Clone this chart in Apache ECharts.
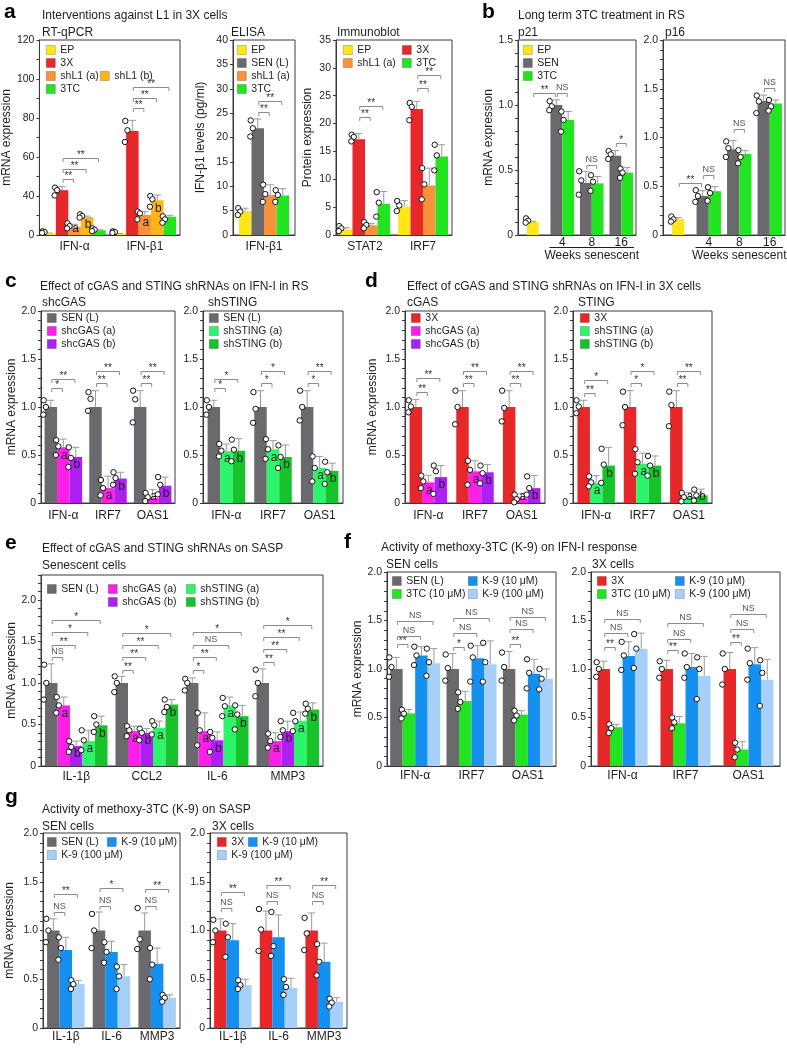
<!DOCTYPE html>
<html>
<head>
<meta charset="utf-8">
<script src="https://cdn.jsdelivr.net/npm/echarts@6.0.0/dist/echarts.min.js"></script>
<style>
  html, body { margin: 0; padding: 0; background: #fff; }
  #chart { width: 787px; height: 1050px; }
</style>
</head>
<body>
<div id="chart"></div>
<script>
// ---- data ----
// a: RT-qPCR (axis units; tick labels on the original read 0,40,60,...,120)
const qpcrCats = ['IFN-α', 'IFN-β1'];
const qpcrNames = ['EP', '3X', 'shL1 (a)', 'shL1 (b)', '3TC'];
const qpcrTags = ['', '', 'a', 'b', ''];
const qpcrMean = [[0.7, 0.5], [23, 53.3], [4.1, 10.3], [9.2, 17.8], [2.4, 9.4]];
const qpcrErr = [[0.3, 0.3], [1.8, 5.5], [1.4, 1.7], [0.5, 2.7], [0.3, 0.7]];
const qpcrDots = [
  [[1.9, 1.5, 1.1], [1.9, 1.5, 1.1]],
  [[24.3, 23, 20.3], [58.5, 53.7, 47.7]],
  [[6, 4.6, 3.4], [12, 11.1, 8]],
  [[10.6, 9.7, 8.9], [20, 18.3, 14.5]],
  [[3.4, 2.7, 2], [9.6, 8, 6.3]]
];
const qpcrSig = [
  [0, 1, 0, 2, 28.6, '**'], [0, 1, 0, 3, 34, '**'], [0, 1, 0, 4, 39.6, '**'],
  [1, 1, 1, 2, 65, '**'], [1, 1, 1, 3, 70.5, '**'], [1, 1, 1, 4, 75.9, '**']
];

// a: ELISA
const elisaCats = ['IFN-β1'];
const elisaNames = ['EP', 'SEN (L)', 'shL1 (a)', '3TC'];
const elisaMean = [[4.9], [21.9], [8.2], [8.1]];
const elisaErr = [[0.6], [1.9], [2.1], [1.4]];
const elisaDots = [[[5.5, 4.8, 4.1]], [[23.5, 21.9, 20.2]], [[10.3, 8.4, 6.8]], [[9.2, 8.2, 6.8]]];
const elisaSig = [[0, 1, 0, 2, 25.3, '**'], [0, 1, 0, 3, 27.4, '**']];

// a: Immunoblot
const blotCats = ['STAT2', 'IRF7'];
const blotNames = ['EP', '3X', 'shL1 (a)', '3TC'];
const blotMean = [[1.0, 5.1], [17.2, 22.6], [1.75, 8.9], [5.6, 14.1]];
const blotErr = [[0.3, 1.1], [1.0, 1.4], [0.35, 3.1], [2.2, 2.1]];
const blotDots = [
  [[1.6, 1.2, 0.7], [6.1, 5.3, 4.3]],
  [[18, 17.6, 16.8], [23.7, 23, 20.6]],
  [[2.3, 1.8, 1.2], [12, 9.1, 6.4]],
  [[7.7, 5.8, 3.3], [16.2, 14.3, 11.6]]
];
const blotSig = [[0, 1, 0, 2, 21.1, '**'], [0, 1, 0, 3, 23.1, '**'], [1, 1, 1, 2, 26.4, '**'], [1, 1, 1, 3, 28.7, '**']];

// b: long term 3TC
const weekCats = ['', '4', '8', '16'];
const weekNames = ['EP', 'SEN', '3TC'];
const p21Mean = [[0.1, null, null, null], [null, 1.0, 0.4, 0.61], [null, 0.885, 0.397, 0.48]];
const p21Err = [[0.005, null, null, null], [null, 0.04, 0.09, 0.04], [null, 0.065, 0.053, 0.04]];
const p21Dots = [
  [[0.128, 0.11, 0.095], null, null, null],
  [null, [1.03, 0.99, 0.96], [0.49, 0.42, 0.31], [0.646, 0.62, 0.585]],
  [null, [0.95, 0.885, 0.795], [0.46, 0.41, 0.34], [0.51, 0.48, 0.44]]
];
const p21Sig = [[0, 0, 1, 1, 1.09, '**'], [1, 1, 1, 2, 1.09, 'NS'], [2, 1, 2, 2, 0.54, 'NS'], [3, 1, 3, 2, 0.705, '*']];
const p16Mean = [[0.164, null, null, null], [null, 0.4, 0.88, 1.375], [null, 0.45, 0.83, 1.35]];
const p16Err = [[0.014, null, null, null], [null, 0.055, 0.09, 0.06], [null, 0.046, 0.035, 0.035]];
const p16Dots = [
  [[0.19, 0.16, 0.137], null, null, null],
  [null, [0.46, 0.4, 0.34], [0.96, 0.89, 0.8], [1.43, 1.37, 1.25]],
  [null, [0.49, 0.43, 0.35], [0.87, 0.8, 0.735], [1.385, 1.32, 1.275]]
];
const p16Sig = [[0, 0, 1, 1, 0.53, '**'], [1, 1, 1, 2, 0.615, 'NS'], [2, 1, 2, 2, 1.087, 'NS'], [3, 1, 3, 2, 1.504, 'NS']];

// c / d: cGAS and STING shRNAs on IFN-I
const ifnCats = ['IFN-α', 'IRF7', 'OAS1'];
const abTags = ['', 'a', 'b'];
const cgasRsNames = ['SEN (L)', 'shcGAS (a)', 'shcGAS (b)'];
const cgasRsMean = [[1, 1, 1], [0.58, 0.155, 0.05], [0.48, 0.255, 0.18]];
const cgasRsErr = [[0.07, 0.17, 0.17], [0.085, 0.125, 0.09], [0.1, 0.065, 0.09]];
const cgasRsDots = [
  [[1.07, 1.0, 0.92], [1.155, 1.085, 0.96], [1.17, 1.08, 0.84]],
  [[0.655, 0.59, 0.5], [0.24, 0.155, 0.08], [0.105, 0.06, 0.02]],
  [[0.58, 0.47, 0.375], [0.32, 0.26, 0.19], [0.27, 0.19, 0.09]]
];
const cgasRsSig = [
  [0, 0, 0, 1, 1.2, '*'], [0, 0, 0, 2, 1.29, '**'], [1, 0, 1, 1, 1.25, '**'],
  [1, 0, 1, 2, 1.38, '**'], [2, 0, 2, 1, 1.25, '**'], [2, 0, 2, 2, 1.38, '**']
];
const stingRsNames = ['SEN (L)', 'shSTING (a)', 'shSTING (b)'];
const stingRsMean = [[1, 1, 1], [0.54, 0.56, 0.365], [0.545, 0.48, 0.335]];
const stingRsErr = [[0.07, 0.17, 0.17], [0.075, 0.09, 0.12], [0.125, 0.125, 0.08]];
const stingRsDots = [
  [[1.07, 1.0, 0.92], [1.155, 0.98, 0.835], [1.17, 1.0, 0.86]],
  [[0.615, 0.545, 0.485], [0.665, 0.56, 0.46], [0.485, 0.365, 0.225]],
  [[0.66, 0.555, 0.435], [0.6, 0.48, 0.365], [0.43, 0.32, 0.2]]
];
const stingRsSig = [
  [0, 0, 0, 1, 1.2, '*'], [0, 0, 0, 2, 1.29, '*'], [1, 0, 1, 1, 1.25, '*'],
  [1, 0, 1, 2, 1.38, '*'], [2, 0, 2, 1, 1.25, '*'], [2, 0, 2, 2, 1.38, '**']
];
const cgas3xNames = ['3X', 'shcGAS (a)', 'shcGAS (b)'];
const cgas3xMean = [[1, 1, 1], [0.215, 0.33, 0.05], [0.27, 0.32, 0.155]];
const cgas3xErr = [[0.08, 0.17, 0.17], [0.075, 0.11, 0.045], [0.12, 0.08, 0.13]];
const cgas3xDots = [
  [[1.07, 1.005, 0.945], [1.17, 1.0, 0.82], [1.17, 0.99, 0.85]],
  [[0.285, 0.225, 0.155], [0.44, 0.345, 0.19], [0.087, 0.04, 0.007]],
  [[0.39, 0.33, 0.095], [0.39, 0.31, 0.205], [0.277, 0.155, 0.087]]
];
const cgas3xSig = [
  [0, 0, 0, 1, 1.16, '**'], [0, 0, 0, 2, 1.3, '**'], [1, 0, 1, 1, 1.25, '**'],
  [1, 0, 1, 2, 1.38, '**'], [2, 0, 2, 1, 1.25, '**'], [2, 0, 2, 2, 1.38, '**']
];
const sting3xNames = ['3X', 'shSTING (a)', 'shSTING (b)'];
const sting3xMean = [[1, 1, 1], [0.21, 0.41, 0.06], [0.39, 0.39, 0.08]];
const sting3xErr = [[0.07, 0.17, 0.17], [0.075, 0.11, 0.05], [0.19, 0.1, 0.065]];
const sting3xDots = [
  [[1.07, 1.005, 0.935], [1.16, 1.0, 0.81], [1.16, 1.02, 0.8]],
  [[0.277, 0.215, 0.173], [0.56, 0.425, 0.305], [0.105, 0.06, 0.017]],
  [[0.565, 0.4, 0.21], [0.49, 0.39, 0.285], [0.14, 0.08, 0.025]]
];
const sting3xSig = [
  [0, 0, 0, 1, 1.145, '**'], [0, 0, 0, 2, 1.28, '*'], [1, 0, 1, 1, 1.25, '*'],
  [1, 0, 1, 2, 1.38, '*'], [2, 0, 2, 1, 1.25, '**'], [2, 0, 2, 2, 1.38, '**']
];

// e: SASP
const saspCats = ['IL-1β', 'CCL2', 'IL-6', 'MMP3'];
const saspNames = ['SEN (L)', 'shcGAS (a)', 'shcGAS (b)', 'shSTING (a)', 'shSTING (b)'];
const saspTags = ['', 'a', 'b', 'a', 'b'];
const saspMean = [[1, 1, 1, 1], [0.73, 0.42, 0.42, 0.3], [0.24, 0.4, 0.31, 0.42], [0.3, 0.46, 0.73, 0.545], [0.49, 0.74, 0.6, 0.68]];
const saspErr = [[0.23, 0.08, 0.06, 0.17], [0.1, 0.06, 0.22, 0.1], [0.06, 0.05, 0.1, 0.12], [0.13, 0.08, 0.1, 0.105], [0.11, 0.06, 0.13, 0.08]];
const saspDots = [
  [[1.22, 1.0, 0.8], [1.08, 1.0, 0.89], [1.05, 1.0, 0.91], [1.16, 1.0, 0.84]],
  [[0.83, 0.73, 0.64], [0.48, 0.43, 0.36], [0.64, 0.43, 0.25], [0.39, 0.3, 0.22]],
  [[0.3, 0.23, 0.17], [0.45, 0.4, 0.31], [0.41, 0.34, 0.17], [0.54, 0.43, 0.35]],
  [[0.43, 0.31, 0.19], [0.54, 0.49, 0.38], [0.82, 0.72, 0.6], [0.64, 0.54, 0.42]],
  [[0.6, 0.5, 0.41], [0.8, 0.71, 0.65], [0.73, 0.62, 0.44], [0.75, 0.69, 0.63]]
];
const saspSig = [
  [0, 0, 0, 1, 1.31, 'NS'], [0, 0, 0, 2, 1.46, '**'], [0, 0, 0, 3, 1.61, '*'], [0, 0, 0, 4, 1.76, '*'],
  [1, 0, 1, 1, 1.16, '**'], [1, 0, 1, 2, 1.31, '**'], [1, 0, 1, 3, 1.46, '**'], [1, 0, 1, 4, 1.6, '*'],
  [2, 0, 2, 1, 1.16, '*'], [2, 0, 2, 2, 1.31, '**'], [2, 0, 2, 3, 1.46, 'NS'], [2, 0, 2, 4, 1.61, '*'],
  [3, 0, 3, 1, 1.25, '**'], [3, 0, 3, 2, 1.41, '**'], [3, 0, 3, 3, 1.55, '**'], [3, 0, 3, 4, 1.7, '*']
];

// f: methoxy-3TC (K-9) on IFN-I
const k9IfnSenNames = ['SEN (L)', '3TC (10 μM)', 'K-9 (10 μM)', 'K-9 (100 μM)'];
const k9IfnSenMean = [[1, 1, 1], [0.543, 0.67, 0.53], [1.14, 1.11, 0.95], [1.06, 1.05, 0.9]];
const k9IfnSenErr = [[0.12, 0.16, 0.18], [0.04, 0.1, 0.04], [0.09, 0.13, 0.15], [0.15, 0.24, 0.1]];
const k9IfnSenDots = [
  [[1.12, 1.02, 0.92], [1.15, 1.01, 0.88], [1.17, 1.02, 0.88]],
  [[0.58, 0.54, 0.49], [0.76, 0.66, 0.59], [0.57, 0.52, 0.47]],
  [[1.23, 1.14, 1.04], [1.24, 1.12, 0.87], [1.1, 0.96, 0.8]],
  [[1.21, 1.07, 0.93], [1.27, 1.07, 0.87], [1.0, 0.9, 0.79]]
];
const k9IfnSenSig = [
  [0, 0, 0, 1, 1.26, '**'], [0, 0, 0, 2, 1.34, 'NS'], [0, 0, 0, 3, 1.5, 'NS'],
  [1, 0, 1, 1, 1.23, '*'], [1, 0, 1, 2, 1.37, 'NS'], [1, 0, 1, 3, 1.53, 'NS'],
  [2, 0, 2, 1, 1.26, '**'], [2, 0, 2, 2, 1.41, 'NS'], [2, 0, 2, 3, 1.54, 'NS']
];
const k9Ifn3xNames = ['3X', '3TC (10 μM)', 'K-9 (10 μM)', 'K-9 (100 μM)'];
const k9Ifn3xMean = [[1, 1, 1], [0.4, 0.44, 0.17], [1.135, 1.02, 1.05], [1.21, 0.93, 0.89]];
const k9Ifn3xErr = [[0.08, 0.09, 0.17], [0.03, 0.07, 0.08], [0.145, 0.14, 0.17], [0.16, 0.2, 0.21]];
const k9Ifn3xDots = [
  [[1.07, 1.0, 0.92], [1.08, 1.0, 0.91], [1.16, 1.0, 0.84]],
  [[0.43, 0.39, 0.34], [0.5, 0.45, 0.39], [0.24, 0.17, 0.09]],
  [[1.28, 1.14, 0.99], [1.16, 1.02, 0.91], [1.21, 1.06, 0.89]],
  [[1.36, 1.21, 1.01], [1.12, 1.0, 0.69], [1.09, 0.96, 0.62]]
];
const k9Ifn3xSig = [
  [0, 0, 0, 1, 1.23, '**'], [0, 0, 0, 2, 1.37, 'NS'], [0, 0, 0, 3, 1.52, 'NS'],
  [1, 0, 1, 1, 1.2, '**'], [1, 0, 1, 2, 1.31, 'NS'], [1, 0, 1, 3, 1.47, 'NS'],
  [2, 0, 2, 1, 1.28, '**'], [2, 0, 2, 2, 1.41, 'NS'], [2, 0, 2, 3, 1.57, 'NS']
];

// g: methoxy-3TC (K-9) on SASP
const k9SaspCats = ['IL-1β', 'IL-6', 'MMP3'];
const k9SaspSenNames = ['SEN (L)', 'K-9 (10 μM)', 'K-9 (100 μM)'];
const k9SaspSenMean = [[1, 1, 1], [0.8, 0.78, 0.66], [0.45, 0.53, 0.31]];
const k9SaspSenErr = [[0.12, 0.19, 0.18], [0.13, 0.11, 0.16], [0.04, 0.12, 0.03]];
const k9SaspSenDots = [
  [[1.12, 1.0, 0.88], [1.17, 1.0, 0.82], [1.23, 0.91, 0.81]],
  [[0.93, 0.82, 0.7], [0.88, 0.78, 0.67], [0.82, 0.65, 0.5]],
  [[0.49, 0.45, 0.4], [0.63, 0.53, 0.4], [0.34, 0.31, 0.27]]
];
const k9SaspSenSig = [
  [0, 0, 0, 1, 1.19, 'NS'], [0, 0, 0, 2, 1.37, '**'], [1, 0, 1, 1, 1.25, 'NS'],
  [1, 0, 1, 2, 1.44, '*'], [2, 0, 2, 1, 1.25, 'NS'], [2, 0, 2, 2, 1.43, '**']
];
const k9Sasp3xNames = ['3X', 'K-9 (10 μM)', 'K-9 (100 μM)'];
const k9Sasp3xMean = [[1, 1, 1], [0.9, 0.93, 0.68], [0.44, 0.41, 0.27]];
const k9Sasp3xErr = [[0.12, 0.2, 0.18], [0.17, 0.23, 0.19], [0.06, 0.1, 0.04]];
const k9Sasp3xDots = [
  [[1.11, 1.0, 0.88], [1.22, 1.01, 0.79], [1.13, 0.97, 0.8]],
  [[1.07, 0.93, 0.73], [1.19, 0.84, 0.74], [0.86, 0.68, 0.54]],
  [[0.49, 0.44, 0.4], [0.5, 0.42, 0.34], [0.3, 0.26, 0.22]]
];
const k9Sasp3xSig = [
  [0, 0, 0, 1, 1.23, 'NS'], [0, 0, 0, 2, 1.4, '**'], [1, 0, 1, 1, 1.3, 'NS'],
  [1, 0, 1, 2, 1.47, '**'], [2, 0, 2, 1, 1.3, 'NS'], [2, 0, 2, 2, 1.47, '**']
];

// ---- styling ----
const FONT = '"Liberation Sans", Arial, Helvetica, sans-serif';
const INK = '#1e1e1e';
const FRAME = '#3a3a3a';
const WHISKER = '#9a9a9a';
const BRACKET = '#8c8c8c';
const BAR_W = 12.5;
const JIT = [-0.8, 1.3, -1.2];
const COLORS = {
  'EP': '#ffe619', '3X': '#e6282b', 'shL1 (a)': '#f8933b', 'shL1 (b)': '#fdb615', '3TC': '#22e421',
  'SEN (L)': '#6a6a6e', 'SEN': '#6a6a6e', 'shcGAS (a)': '#fb1fe8', 'shcGAS (b)': '#ad1ff2',
  'shSTING (a)': '#2df56b', 'shSTING (b)': '#16c32b', '3TC (10 μM)': '#22e421',
  'K-9 (10 μM)': '#1590ef', 'K-9 (100 μM)': '#a6d0f7'
};

function fmtTenth(v) {
  const t = Math.round(v * 10);
  if (t % 5 !== 0) return '';
  return t === 0 ? '0' : (t / 10).toFixed(1);
}
function fmtQpcr(v) {
  const r = Math.round(v);
  if (r % 20 !== 0) return '';
  return r === 0 ? '0' : String(r + 20);
}
function fmtInt(v) {
  return String(Math.round(v));
}

const panels = [
  { cats: qpcrCats, names: qpcrNames, tags: qpcrTags, mean: qpcrMean, err: qpcrErr, dots: qpcrDots, sig: qpcrSig,
    box: [39, 40, 141, 195], max: 100, step: 10, fmt: fmtQpcr, yName: 'mRNA expression', nameGap: 20, xMargin: 6,
    legends: [[46, 44, ['EP', '3X', 'shL1 (a)', '3TC']], [100, 70, ['shL1 (b)']]] },
  { cats: elisaCats, names: elisaNames, mean: elisaMean, err: elisaErr, dots: elisaDots, sig: elisaSig,
    box: [233, 40, 62, 195], max: 40, step: 5, fmt: fmtInt, yName: 'IFN-β1 levels (pg/ml)', nameGap: 26, xMargin: 6,
    legends: [[237, 44, ['EP', 'SEN (L)', 'shL1 (a)', '3TC']]] },
  { cats: blotCats, names: blotNames, mean: blotMean, err: blotErr, dots: blotDots, sig: blotSig,
    box: [336, 40, 116, 195], max: 35, step: 5, fmt: fmtInt, yName: 'Protein expression', nameGap: 22, xMargin: 6,
    legends: [[343, 44, ['EP', 'shL1 (a)']], [402, 44, ['3X', '3TC']]] },
  { cats: weekCats, names: weekNames, mean: p21Mean, err: p21Err, dots: p21Dots, sig: p21Sig,
    box: [518, 40, 118, 195], max: 1.5, step: 0.1, fmt: fmtTenth, yName: 'mRNA expression', nameGap: 21, xMargin: 2,
    slots: [0.5, 0, 1], nSlots: 2, barW: 11.8, weeks: true,
    legends: [[523, 44, ['EP', 'SEN', '3TC']]] },
  { cats: weekCats, names: weekNames, mean: p16Mean, err: p16Err, dots: p16Dots, sig: p16Sig,
    box: [663, 40, 122, 195], max: 2, step: 0.1, fmt: fmtTenth, xMargin: 2,
    slots: [0.5, 0, 1], nSlots: 2, barW: 12.2, weeks: true, legends: [] },
  { cats: ifnCats, names: cgasRsNames, tags: abTags, mean: cgasRsMean, err: cgasRsErr, dots: cgasRsDots, sig: cgasRsSig,
    box: [41, 311, 134, 192], max: 2, step: 0.1, fmt: fmtTenth, yName: 'mRNA expression', nameGap: 23, xMargin: 7,
    legends: [[47, 312, cgasRsNames]] },
  { cats: ifnCats, names: stingRsNames, tags: abTags, mean: stingRsMean, err: stingRsErr, dots: stingRsDots, sig: stingRsSig,
    box: [203, 311, 140, 192], max: 2, step: 0.1, fmt: fmtTenth, xMargin: 7,
    legends: [[209, 312, stingRsNames]] },
  { cats: ifnCats, names: cgas3xNames, tags: abTags, mean: cgas3xMean, err: cgas3xErr, dots: cgas3xDots, sig: cgas3xSig,
    box: [405, 311, 140, 192], max: 2, step: 0.1, fmt: fmtTenth, yName: 'mRNA expression', nameGap: 26, xMargin: 7,
    legends: [[411, 312, cgas3xNames]] },
  { cats: ifnCats, names: sting3xNames, tags: abTags, mean: sting3xMean, err: sting3xErr, dots: sting3xDots, sig: sting3xSig,
    box: [573, 311, 139, 192], max: 2, step: 0.1, fmt: fmtTenth, xMargin: 7,
    legends: [[580, 312, sting3xNames]] },
  { cats: saspCats, names: saspNames, tags: saspTags, mean: saspMean, err: saspErr, dots: saspDots, sig: saspSig,
    box: [41, 575, 282, 191], max: 2.3, step: 0.1, fmt: fmtTenth, yName: 'mRNA expression', nameGap: 23, xMargin: 5,
    legends: [[47, 583, ['SEN (L)']], [108, 583, ['shcGAS (a)', 'shcGAS (b)']], [186, 583, ['shSTING (a)', 'shSTING (b)']]] },
  { cats: ifnCats, names: k9IfnSenNames, mean: k9IfnSenMean, err: k9IfnSenErr, dots: k9IfnSenDots, sig: k9IfnSenSig,
    box: [387, 572, 169, 194], max: 2, step: 0.1, fmt: fmtTenth, yName: 'mRNA expression', nameGap: 17, xMargin: 4,
    legends: [[392, 575, ['SEN (L)', '3TC (10 μM)']], [468, 575, ['K-9 (10 μM)', 'K-9 (100 μM)']]] },
  { cats: ifnCats, names: k9Ifn3xNames, mean: k9Ifn3xMean, err: k9Ifn3xErr, dots: k9Ifn3xDots, sig: k9Ifn3xSig,
    box: [591, 572, 189, 194], max: 2, step: 0.1, fmt: fmtTenth, xMargin: 4,
    legends: [[597, 575, ['3X', '3TC (10 μM)']], [675, 575, ['K-9 (10 μM)', 'K-9 (100 μM)']]] },
  { cats: k9SaspCats, names: k9SaspSenNames, mean: k9SaspSenMean, err: k9SaspSenErr, dots: k9SaspSenDots, sig: k9SaspSenSig,
    box: [43, 833, 137, 195], max: 2, step: 0.1, fmt: fmtTenth, yName: 'mRNA expression', nameGap: 27, xMargin: 3,
    legends: [[47, 836, ['SEN (L)', 'K-9 (100 μM)']], [107, 836, ['K-9 (10 μM)']]] },
  { cats: k9SaspCats, names: k9Sasp3xNames, mean: k9Sasp3xMean, err: k9Sasp3xErr, dots: k9Sasp3xDots, sig: k9Sasp3xSig,
    box: [210, 833, 137, 195], max: 2, step: 0.1, fmt: fmtTenth, xMargin: 3,
    legends: [[217, 836, ['3X', 'K-9 (100 μM)']], [248, 836, ['K-9 (10 μM)']]] }
];

const texts = [
  ['a', 4, 12, true], ['Interventions against L1 in 3X cells', 42, 16], ['RT-qPCR', 42, 33], ['ELISA', 231, 33], ['Immunoblot', 337, 33],
  ['b', 482, 12, true], ['Long term 3TC treatment in RS', 518, 16], ['p21', 518, 33], ['p16', 665, 33],
  ['c', 5, 281, true], ['Effect of cGAS and STING shRNAs on IFN-I in RS', 40, 287], ['shcGAS', 42, 303], ['shSTING', 208, 303],
  ['d', 365, 281, true], ['Effect of cGAS and STING shRNAs on IFN-I in 3X cells', 407, 287], ['cGAS', 407, 303], ['STING', 578, 303],
  ['e', 5, 543, true], ['Effect of cGAS and STING shRNAs on SASP', 42, 549], ['Senescent cells', 42, 566],
  ['f', 344, 542, true], ['Activity of methoxy-3TC (K-9) on IFN-I response', 381, 548], ['SEN cells', 386, 565], ['3X cells', 592, 565],
  ['g', 5, 797, true], ['Activity of methoxy-3TC (K-9) on SASP', 42, 810], ['SEN cells', 42, 827], ['3X cells', 212, 827]
];

// ---- helpers ----
function slotX(p, ci, si, api) {
  const c = api.coord([ci, 0])[0];
  const n = p.nSlots || p.names.length;
  const s = p.slots ? p.slots[si] : si;
  return c + (s - (n - 1) / 2) * (p.barW || BAR_W);
}

function textStyle(text, x, y, size, opts) {
  return Object.assign({
    text, x, y, fontSize: size, fontFamily: FONT, fill: INK,
    align: 'center', verticalAlign: 'middle', textAlign: 'center', textVerticalAlign: 'middle'
  }, opts || {});
}

function barSeries(p, gi, si) {
  const name = p.names[si];
  const color = COLORS[name];
  const w = p.barW || BAR_W;
  const tag = p.tags ? p.tags[si] : '';
  const data = [];
  p.mean[si].forEach((m, ci) => {
    if (m != null) data.push([ci, m, p.err[si][ci]]);
  });
  return {
    type: 'custom', name, xAxisIndex: gi, yAxisIndex: gi, z: 2, clip: false,
    itemStyle: { color }, encode: { x: 0, y: 1 }, data,
    renderItem(params, api) {
      const ci = api.value(0), m = api.value(1), e = api.value(2);
      const cx = slotX(p, ci, si, api);
      const base = api.coord([ci, 0])[1];
      const top = api.coord([ci, m])[1];
      const whisk = api.coord([ci, m + e])[1];
      const kids = [
        { type: 'line', shape: { x1: cx, y1: top, x2: cx, y2: whisk }, style: { stroke: WHISKER, lineWidth: 1 } },
        { type: 'line', shape: { x1: cx - 3.5, y1: whisk, x2: cx + 3.5, y2: whisk }, style: { stroke: WHISKER, lineWidth: 1 } },
        { type: 'rect', shape: { x: cx - w / 2, y: top, width: w, height: base - top }, style: { fill: color } }
      ];
      if (tag) {
        kids.push({ type: 'text', z2: 5, style: textStyle(tag, cx + 1, Math.min(top + 8, base - 6), 12) });
      }
      return { type: 'group', children: kids };
    }
  };
}

function dotSeries(p, gi) {
  const w = p.barW || BAR_W;
  const data = [];
  p.dots.forEach((row, si) => row.forEach((pts, ci) => {
    if (pts) pts.forEach((v, k) => data.push([ci, v, si, k]));
  }));
  return {
    type: 'custom', xAxisIndex: gi, yAxisIndex: gi, z: 6, silent: true, clip: false,
    encode: { x: 0, y: 1 }, data,
    renderItem(params, api) {
      const ci = api.value(0), v = api.value(1), si = api.value(2), k = api.value(3);
      const x = slotX(p, ci, si, api) - w / 2 + JIT[k % 3];
      const y = api.coord([ci, v])[1];
      return { type: 'circle', shape: { cx: x, cy: y, r: 2.7 }, style: { fill: '#fff', stroke: '#111', lineWidth: 1 } };
    }
  };
}

function sigSeries(p, gi) {
  return {
    type: 'custom', xAxisIndex: gi, yAxisIndex: gi, z: 4, silent: true, clip: false,
    encode: { x: 0, y: 1 }, data: p.sig.map(s => [s[0], s[4]]),
    renderItem(params, api) {
      const s = p.sig[params.dataIndex];
      const x1 = slotX(p, s[0], s[1], api) + 1;
      const x2 = slotX(p, s[2], s[3], api) - 1;
      const y = Math.round(api.coord([s[0], s[4]])[1]) + 0.5;
      const star = s[5] !== 'NS';
      return {
        type: 'group', children: [
          { type: 'polyline', shape: { points: [[x1, y + 3.5], [x1, y], [x2, y], [x2, y + 3.5]] },
            style: { stroke: BRACKET, lineWidth: 1, fill: 'none' } },
          { type: 'text', style: textStyle(s[5], (x1 + x2) / 2, star ? y + 2 : y - 1, star ? 10 : 9,
              { verticalAlign: 'bottom', textVerticalAlign: 'bottom', fill: star ? '#333' : '#555' }) }
        ]
      };
    }
  };
}

function weeksSeries(p, gi) {
  const w = p.barW || BAR_W;
  return {
    type: 'custom', xAxisIndex: gi, yAxisIndex: gi, silent: true, clip: false,
    encode: { x: 0, y: 1 }, data: [[1, 0]],
    renderItem(params, api) {
      const xa = slotX(p, 1, 1, api) - w / 2 - 1;
      const xb = slotX(p, p.cats.length - 1, 2, api) + w / 2 + 1;
      const base = api.coord([1, 0])[1];
      return {
        type: 'group', children: [
          { type: 'line', shape: { x1: xa, y1: base + 12.5, x2: xb, y2: base + 12.5 }, style: { stroke: INK, lineWidth: 1 } },
          { type: 'text', style: textStyle('Weeks senescent', (xa + xb) / 2, base + 21, 12) }
        ]
      };
    }
  };
}

// ---- build option ----
const grid = [], xAxis = [], yAxis = [], series = [], legend = [];
panels.forEach((p, gi) => {
  const [l, t, w, h] = p.box;
  grid.push({ left: l, top: t, width: w, height: h, show: true, borderColor: FRAME, borderWidth: 1, backgroundColor: 'transparent' });
  xAxis.push({
    type: 'category', gridIndex: gi, data: p.cats,
    axisTick: { show: false },
    axisLine: { show: true, lineStyle: { color: FRAME, width: 1 } },
    axisLabel: { fontSize: 12, color: INK, fontFamily: FONT, margin: p.xMargin, interval: 0 },
    splitLine: { show: false }
  });
  yAxis.push({
    type: 'value', gridIndex: gi, min: 0, max: p.max, interval: p.step,
    axisLine: { show: true, lineStyle: { color: FRAME, width: 1 } },
    axisTick: { show: true, length: 3, lineStyle: { color: FRAME } },
    splitLine: { show: false },
    axisLabel: { fontSize: 10.5, color: INK, fontFamily: FONT, margin: 5, formatter: p.fmt },
    name: p.yName || '', nameLocation: 'middle', nameGap: p.nameGap || 20,
    nameTextStyle: { fontSize: 12, color: INK, fontFamily: FONT }
  });
  p.names.forEach((n, si) => series.push(barSeries(p, gi, si)));
  series.push(sigSeries(p, gi));
  series.push(dotSeries(p, gi));
  if (p.weeks) series.push(weeksSeries(p, gi));
  p.legends.forEach(([x, y, items]) => legend.push({
    orient: 'vertical', left: x, top: y, padding: 0, itemGap: 1, itemWidth: 9, itemHeight: 9,
    icon: 'rect', selectedMode: false, data: items,
    textStyle: { fontSize: 10.5, lineHeight: 12, color: INK, fontFamily: FONT },
    itemStyle: { borderColor: 'rgba(0,0,0,0.35)', borderWidth: 0.6 }
  }));
});

const graphic = texts.map(([text, x, y, bold]) => ({
  type: 'text', x, y, silent: true,
  style: textStyle(text, 0, 0, bold ? 21 : 12, {
    align: 'left', textAlign: 'left', fontWeight: bold ? 'bold' : 'normal', fill: bold ? '#000' : INK
  })
}));

const chart = echarts.init(document.getElementById('chart'), null, { renderer: 'canvas' });
chart.setOption({
  backgroundColor: '#fff',
  animation: false,
  textStyle: { fontFamily: FONT },
  grid, xAxis, yAxis, legend, series, graphic
});
</script>
</body>
</html>
